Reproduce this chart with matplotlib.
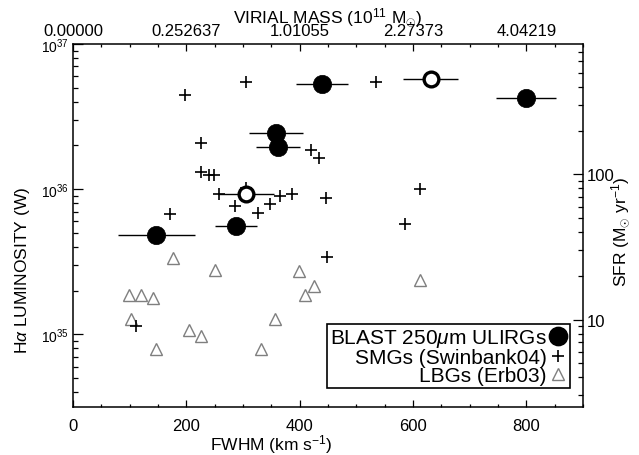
import matplotlib
matplotlib.use('Agg')
import matplotlib.pyplot as plt
from matplotlib.ticker import FixedLocator, MultipleLocator, LogLocator, NullFormatter, FixedFormatter, LogFormatterMathtext
from matplotlib.lines import Line2D

plt.rcParams['font.family'] = ['Liberation Sans', 'DejaVu Sans']
plt.rcParams['mathtext.fontset'] = 'custom'
plt.rcParams['mathtext.rm'] = 'Liberation Sans'
plt.rcParams['mathtext.it'] = 'Liberation Sans:italic'
plt.rcParams['mathtext.bf'] = 'Liberation Sans:bold'

# ---------------- data ----------------
ulirg_fwhm = [439, 800, 358, 362, 147, 287]
ulirg_err = [46, 53, 47, 39, 68, 37]
ulirg_lum = [5.3e36, 4.25e36, 2.45e36, 1.95e36, 4.87e35, 5.6e35]

open_fwhm = [631, 305]
open_err = [48, 50]
open_lum = [5.7e36, 9.3e35]

smg_fwhm = [198, 225, 225, 240, 248, 257, 285, 171, 306, 535, 420, 434,
            365, 387, 447, 348, 327, 585, 612, 448, 112, 305]
smg_lum = [4.46e36, 2.08e36, 1.31e36, 1.25e36, 1.25e36, 9.2e35, 7.7e35, 6.7e35,
           5.46e36, 5.5e36, 1.85e36, 1.64e36, 9.0e35, 9.3e35, 8.75e35, 7.87e35,
           6.86e35, 5.8e35, 1.0e36, 3.42e35, 1.14e35, 1.02e36]

lbg_fwhm = [176, 251, 99, 120, 141, 103, 204, 226, 146, 399, 425, 409, 357, 331, 613]
lbg_lum = [3.37e35, 2.77e35, 1.88e35, 1.88e35, 1.77e35, 1.28e35, 1.08e35, 9.8e34,
           7.9e34, 2.74e35, 2.17e35, 1.88e35, 1.27e35, 7.9e34, 2.36e35]

mass_tick_fwhm = [0, 200, 400, 600, 800]
mass_tick_labels = ['0.00000', '0.252637', '1.01055', '2.27373', '4.04219']

sfr_factor = 7.9e-35  # SFR (Msun/yr) per W of Halpha
sfr_ticks = [10, 100]
sfr_tick_labels = ['10', '100']

xlim = (0, 900)
ylim = (10 ** 34.5, 1e37)

# ---------------- figure ----------------
fig = plt.figure(figsize=(6.39, 4.56), dpi=100)
ax = fig.add_axes([73 / 639, 48 / 456, 510 / 639, 363 / 456])

grey = '#7f7f7f'
ax.plot(lbg_fwhm, lbg_lum, linestyle='none', marker='^', ms=8.6,
        mfc='none', mec=grey, mew=1.0, zorder=2)
ax.plot(smg_fwhm, smg_lum, linestyle='none', marker='+', ms=9.2,
        color='black', mew=1.2, zorder=3)
ax.errorbar(ulirg_fwhm, ulirg_lum, xerr=ulirg_err, fmt='none', ecolor='black',
            elinewidth=1.0, capsize=0, zorder=4)
ax.errorbar(open_fwhm, open_lum, xerr=open_err, fmt='none', ecolor='black',
            elinewidth=1.0, capsize=0, zorder=4)
ax.plot(ulirg_fwhm, ulirg_lum, linestyle='none', marker='o', ms=13.2,
        mfc='black', mec='black', mew=0.5, zorder=5)
ax.plot(open_fwhm, open_lum, linestyle='none', marker='o', ms=10.6,
        mfc='white', mec='black', mew=2.4, zorder=5)

ax.set_xscale('linear')
ax.set_yscale('log')
ax.set_xlim(*xlim)
ax.set_ylim(*ylim)

ax.xaxis.set_major_locator(MultipleLocator(200))
ax.xaxis.set_minor_locator(MultipleLocator(50))
ax.yaxis.set_major_locator(LogLocator(base=10, numticks=10))
ax.yaxis.set_minor_locator(LogLocator(base=10, subs=range(2, 10), numticks=10))
ax.yaxis.set_major_formatter(LogFormatterMathtext())
ax.yaxis.set_minor_formatter(NullFormatter())

ax.tick_params(axis='x', which='both', direction='in', top=False, labelsize=12, pad=8)
ax.tick_params(axis='x', which='major', length=4.8, width=0.9)
ax.tick_params(axis='x', which='minor', length=2.4, width=0.9)
ax.tick_params(axis='y', which='both', direction='in', right=False, labelsize=10, pad=3)
ax.tick_params(axis='y', which='major', length=7.2, width=0.9)
ax.tick_params(axis='y', which='minor', length=3.6, width=0.9)
for s in ax.spines.values():
    s.set_linewidth(1.1)

ax.set_xlabel('FWHM (km s$^{-1}$)', fontsize=12.5)
ax.xaxis.set_label_coords(0.388, -0.068)
ax.set_ylabel(r'H$\alpha$ LUMINOSITY (W)', fontsize=12.5)
ax.yaxis.set_label_coords(-0.08, 0.38)

# top axis (virial mass)
axt = ax.twiny()
axt.set_xlim(*xlim)
axt.xaxis.set_major_locator(FixedLocator(mass_tick_fwhm))
axt.xaxis.set_major_formatter(FixedFormatter(mass_tick_labels))
axt.xaxis.set_minor_locator(MultipleLocator(50))
axt.tick_params(axis='x', which='both', direction='in', labelsize=12, pad=4)
axt.tick_params(axis='x', which='major', length=4.8, width=0.9)
axt.tick_params(axis='x', which='minor', length=2.4, width=0.9)
axt.set_xlabel(r'VIRIAL MASS (10$^{11}$ M$_{\odot}$)', fontsize=12.5, labelpad=1)
for s in axt.spines.values():
    s.set_visible(False)

# right axis (SFR)
axr = ax.twinx()
axr.set_yscale('log')
axr.set_ylim(ylim[0] * sfr_factor, ylim[1] * sfr_factor)
axr.yaxis.set_major_locator(FixedLocator(sfr_ticks))
axr.yaxis.set_major_formatter(FixedFormatter(sfr_tick_labels))
axr.yaxis.set_minor_locator(LogLocator(base=10, subs=range(2, 10), numticks=10))
axr.yaxis.set_minor_formatter(NullFormatter())
axr.tick_params(axis='y', which='both', direction='in', labelsize=12, pad=3)
axr.tick_params(axis='y', which='major', length=7.2, width=0.9)
axr.tick_params(axis='y', which='minor', length=3.6, width=0.9)
axr.set_ylabel(r'SFR (M$_{\odot}$ yr$^{-1}$)', fontsize=12.5, rotation=90)
axr.yaxis.set_label_coords(1.052, 0.485)
for s in axr.spines.values():
    s.set_visible(False)

# legend
handles = [
    Line2D([], [], linestyle='none', marker='o', ms=13.2, mfc='black', mec='black'),
    Line2D([], [], linestyle='none', marker='+', ms=9.2, color='black', mew=1.2),
    Line2D([], [], linestyle='none', marker='^', ms=8.6, mfc='none', mec=grey, mew=1.0),
]
labels = [r'BLAST 250$\mu$m ULIRGs', 'SMGs (Swinbank04)', 'LBGs (Erb03)']
leg = axr.legend(handles, labels, loc='lower right', bbox_to_anchor=(0.9745, 0.052),
                 borderaxespad=0, markerfirst=False, fontsize=15, frameon=True,
                 fancybox=False, edgecolor='black', framealpha=1,
                 handlelength=0.85, handletextpad=0.12, labelspacing=-0.05,
                 borderpad=0.15)
leg.get_frame().set_linewidth(1.2)
for t in leg.get_texts():
    t.set_ha('right')
leg._legend_box.align = 'right'

fig.savefig('out.png', dpi=100)
